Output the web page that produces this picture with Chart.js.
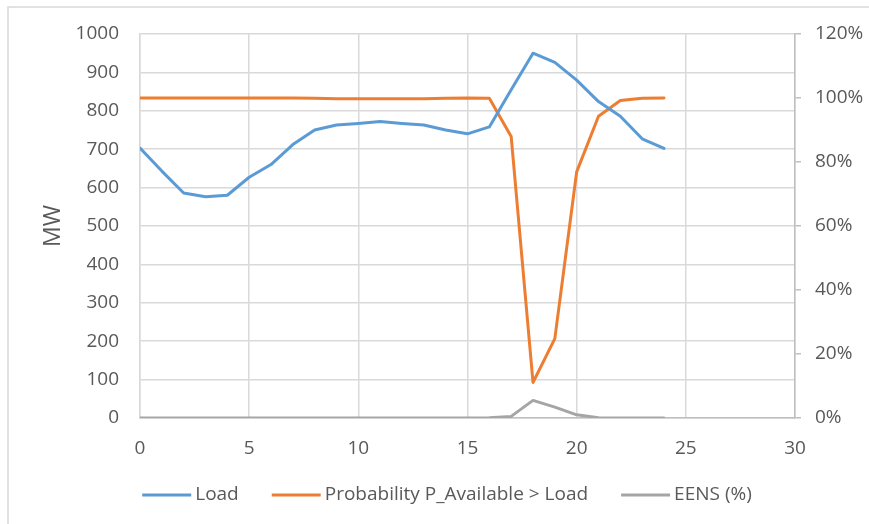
<!DOCTYPE html>
<html>
<head>
<meta charset="utf-8">
<script src="https://cdn.jsdelivr.net/npm/chart.js@4"></script>
<style>
    body { margin: 0; background: #fff; }
    .grafico { width: 869px; height: 524px; position: relative; }
</style>
</head>
<body>
<div class="grafico">
    <canvas id="meuGrafico"></canvas>
</div>
<script>
const horas = [0, 1, 2, 3, 4, 5, 6, 7, 8, 9, 10, 11, 12, 13, 14, 15, 16, 17, 18, 19, 20, 21, 22, 23, 24];
const carga = [703, 643, 586, 576, 580, 627, 660, 712, 750, 763, 767, 772, 767, 763, 750, 740, 758, 855, 950, 926, 880, 824, 786, 727, 702];
const probabilidade = [1.0, 1.0, 1.0, 1.0, 1.0, 1.0, 1.0, 1.0, 0.999, 0.998, 0.998, 0.998, 0.998, 0.998, 0.999, 1.0, 0.999, 0.88, 0.111, 0.248, 0.769, 0.943, 0.992, 0.999, 1.0];
const eens = [0, 0, 0, 0, 0, 0, 0, 0, 0, 0, 0, 0, 0, 0, 0, 0, 0.001, 0.005, 0.055, 0.034, 0.01, 0.001, 0, 0, 0];
const nomesSeries = ['Load', 'Probability P_Available > Load', 'EENS (%)'];
const coresSeries = ['#5B9BD5', '#ED7D31', '#A5A5A5'];

const fonte = '"Open Sans", "Noto Sans", sans-serif';
const corTexto = '#595959';

function pontos(valores) {
    return horas.map(function (h, i) { return { x: h, y: valores[i] }; });
}

// legenda e moldura desenhadas a mao, parecido com o excel
const legendaExcel = {
    id: 'legendaExcel',
    beforeDraw(chart) {
        const c = chart.ctx;
        c.save();
        c.strokeStyle = '#d9d9d9';
        c.lineWidth = 1.5;
        c.beginPath();
        c.moveTo(8, 530);
        c.lineTo(8, 7);
        c.lineTo(880, 7);
        c.stroke();
        c.restore();
    },
    afterDraw(chart) {
        const c = chart.ctx;
        c.save();
        c.font = '19px ' + fonte;
        c.textBaseline = 'middle';
        const linha = 49, espaco = 4, entre = 33;
        let total = 0;
        chart.data.datasets.forEach(function (ds, i) {
            total += linha + espaco + c.measureText(ds.label).width;
            if (i > 0) total += entre;
        });
        let x = 447 - total / 2;
        const y = 495;
        chart.data.datasets.forEach(function (ds) {
            c.strokeStyle = ds.borderColor;
            c.lineWidth = 3;
            c.beginPath();
            c.moveTo(x, y);
            c.lineTo(x + linha, y);
            c.stroke();
            x += linha + espaco;
            c.fillStyle = corTexto;
            c.fillText(ds.label, x, y);
            x += c.measureText(ds.label).width + entre;
        });
        c.restore();
    }
};

const ctx = document.getElementById('meuGrafico').getContext('2d');

new Chart(ctx, {
    type: 'line',
    data: {
        datasets: [{
            label: nomesSeries[0],
            data: pontos(carga),
            borderColor: coresSeries[0],
            yAxisID: 'y'
        }, {
            label: nomesSeries[1],
            data: pontos(probabilidade),
            borderColor: coresSeries[1],
            yAxisID: 'y1'
        }, {
            label: nomesSeries[2],
            data: pontos(eens),
            borderColor: coresSeries[2],
            yAxisID: 'y1'
        }]
    },
    options: {
        responsive: true,
        maintainAspectRatio: false,
        animation: false,
        layout: { padding: { top: 34, left: 0, right: 0, bottom: 0 } },
        elements: {
            point: { radius: 0 },
            line: { borderWidth: 3, tension: 0, borderCapStyle: 'round', borderJoinStyle: 'round' }
        },
        plugins: {
            legend: { display: false },
            tooltip: { enabled: false }
        },
        scales: {
            x: {
                type: 'linear',
                min: 0,
                max: 30,
                afterFit: function (s) { s.height = 106; },
                ticks: { stepSize: 5, padding: 19, color: corTexto, font: { family: fonte, size: 19 } },
                grid: { color: '#d9d9d9', lineWidth: 1.5, drawTicks: false },
                border: { color: '#bfbfbf', width: 1.5 }
            },
            y: {
                position: 'left',
                min: 0,
                max: 1000,
                afterFit: function (s) { s.width = 140; },
                ticks: {
                    stepSize: 100,
                    padding: 21,
                    color: corTexto,
                    font: { family: fonte, size: 19 },
                    callback: function (v) { return String(v); }
                },
                grid: { color: '#d9d9d9', lineWidth: 1.5, drawTicks: false },
                border: { color: '#d9d9d9', width: 1.5 },
                title: {
                    display: true,
                    text: 'MW',
                    color: corTexto,
                    font: { family: fonte, size: 23 },
                    padding: { top: 40, bottom: 0 }
                }
            },
            y1: {
                position: 'right',
                min: 0,
                max: 1.2,
                afterFit: function (s) { s.width = 74; },
                ticks: {
                    stepSize: 0.2,
                    padding: 14,
                    color: corTexto,
                    font: { family: fonte, size: 19 },
                    callback: function (v) { return Math.round(v * 100) + '%'; }
                },
                grid: { drawOnChartArea: false, color: '#bfbfbf', lineWidth: 1.5, tickLength: 6 },
                border: { color: '#bfbfbf', width: 1.5 }
            }
        }
    },
    plugins: [legendaExcel]
});
</script>
</body>
</html>
